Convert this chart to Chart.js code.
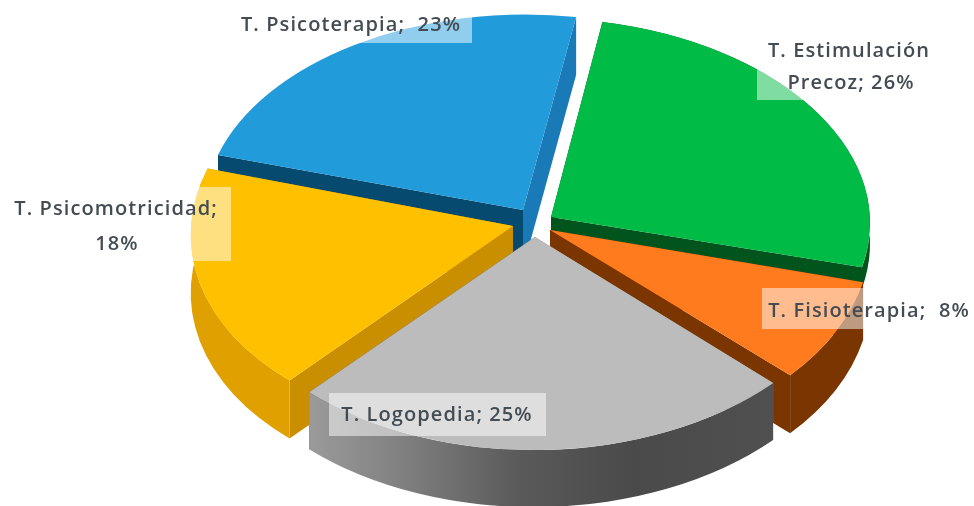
<!DOCTYPE html>
<html>
<head>
<meta charset="utf-8">
<style>html,body{margin:0;padding:0;background:#fff}canvas{display:block}</style>
<script src="https://cdn.jsdelivr.net/npm/chart.js@4"></script>
</head>
<body>
<canvas id="c" width="974" height="506"></canvas>
<script>
// ---- data ----
const categories = ['T. Estimulación Precoz', 'T. Fisioterapia', 'T. Logopedia', 'T. Psicomotricidad', 'T. Psicoterapia'];
const values = [26, 8, 25, 18, 23];
const topColors = ['#00bb45', '#ff7b1e', '#bcbcbc', '#ffc000', '#229bdb'];

// ---- styling of the 3D look ----
const outerWallColors = ['#00541c', '#7a3500', 'gradient', '#e0a000', null];
const startFaceColors = ['#00541c', '#7a3500', '#9a9a9a', '#c98f00', '#064a70'];
const endFaceColors   = ['#00541c', '#7a3500', '#4d4d4d', '#c98f00', '#1a7ab8'];
const wallDepths = [21, 58, 57, 58, 58];
// exploded position of each slice: linear map [a,b,c,d] for unit circle, then apex e,f
const placements = [
  [319, 7, -1.5, 198.5, 551, 217],
  [321, 6, -1, 213, 550, 230],
  [328, 7, -12, 213, 535, 237],
  [322, 0, -14, 206, 513, 226],
  [318.6, 0.5, -3.3, 195.5, 523, 210]
];
const paintOrder = [4, 0, 3, 1, 2];

// ---- label layout ----
const labelFont = '600 20px "Open Sans"';
const labelSpacing = '1.1px';
const labelColor = '#434c52';
const labelLayout = [
  {box: [757, 35, 188, 65], lines: [[849, 51, 'T. Estimulación'], [851, 83, 'Precoz; 26%']]},
  {box: [762, 288, 212, 41], lines: [[869, 311, 'T. Fisioterapia;  8%']]},
  {box: [329, 393, 217, 43], lines: [[437, 415, 'T. Logopedia; 25%']]},
  {box: [5, 187, 226, 74], lines: [[116, 209, 'T. Psicomotricidad;'], [117, 244, '18%']]},
  {box: [232, 8, 240, 35], lines: [[351, 25, 'T. Psicoterapia;  23%']]}
];

function mapSlice(ctx, arc, i, dy) {
  const p = placements[i], R = arc.outerRadius;
  ctx.setTransform(p[0] / R, p[1] / R, p[2] / R, p[3] / R, p[4], p[5] + dy);
  ctx.translate(-arc.x, -arc.y);
}

const pie3d = {
  id: 'pie3d',
  beforeDatasetsDraw(chart) {
    const ctx = chart.ctx;
    const arcs = chart.getDatasetMeta(0).data;
    paintOrder.forEach(i => {
      const arc = arcs[i], d = wallDepths[i];
      const s = arc.startAngle, e = arc.endAngle, R = arc.outerRadius;
      const cx = arc.x, cy = arc.y;
      ctx.save();
      // two radial faces
      [[s, startFaceColors[i]], [e, endFaceColors[i]]].forEach(f => {
        const px = cx + R * Math.cos(f[0]), py = cy + R * Math.sin(f[0]);
        ctx.beginPath();
        mapSlice(ctx, arc, i, 0);
        ctx.moveTo(cx, cy);
        ctx.lineTo(px, py);
        mapSlice(ctx, arc, i, d);
        ctx.lineTo(px, py);
        ctx.lineTo(cx, cy);
        ctx.closePath();
        ctx.setTransform(1, 0, 0, 1, 0, 0);
        ctx.fillStyle = f[1];
        ctx.fill();
      });
      // outer curved wall
      if (outerWallColors[i]) {
        ctx.beginPath();
        mapSlice(ctx, arc, i, 0);
        ctx.arc(cx, cy, R, s, e);
        mapSlice(ctx, arc, i, d);
        ctx.arc(cx, cy, R, e, s, true);
        ctx.closePath();
        ctx.setTransform(1, 0, 0, 1, 0, 0);
        if (outerWallColors[i] === 'gradient') {
          const g = ctx.createLinearGradient(310, 0, 773, 0);
          g.addColorStop(0, '#9a9a9a');
          g.addColorStop(0.2, '#808080');
          g.addColorStop(0.45, '#5a5a5a');
          g.addColorStop(0.7, '#4a4a4a');
          g.addColorStop(1, '#505050');
          ctx.fillStyle = g;
        } else {
          ctx.fillStyle = outerWallColors[i];
        }
        ctx.fill();
      }
      // top surface, drawn by the library's arc element
      mapSlice(ctx, arc, i, 0);
      arc.draw(ctx);
      ctx.restore();
    });
    return false;
  },
  afterDraw(chart) {
    const ctx = chart.ctx;
    ctx.save();
    ctx.setTransform(1, 0, 0, 1, 0, 0);
    ctx.font = labelFont;
    ctx.letterSpacing = labelSpacing;
    ctx.textAlign = 'center';
    ctx.textBaseline = 'middle';
    labelLayout.forEach(l => {
      ctx.fillStyle = 'rgba(255,255,255,0.5)';
      ctx.fillRect(l.box[0], l.box[1], l.box[2], l.box[3]);
      ctx.fillStyle = labelColor;
      l.lines.forEach(t => ctx.fillText(t[2], t[0], t[1]));
    });
    ctx.restore();
  }
};

new Chart(document.getElementById('c'), {
  type: 'pie',
  data: {
    labels: categories,
    datasets: [{data: values, backgroundColor: topColors, borderWidth: 0}]
  },
  options: {
    responsive: false,
    animation: false,
    rotation: 9,
    layout: {padding: 0},
    plugins: {legend: {display: false}, title: {display: false}, tooltip: {enabled: false}}
  },
  plugins: [pie3d]
});
</script>
</body>
</html>
